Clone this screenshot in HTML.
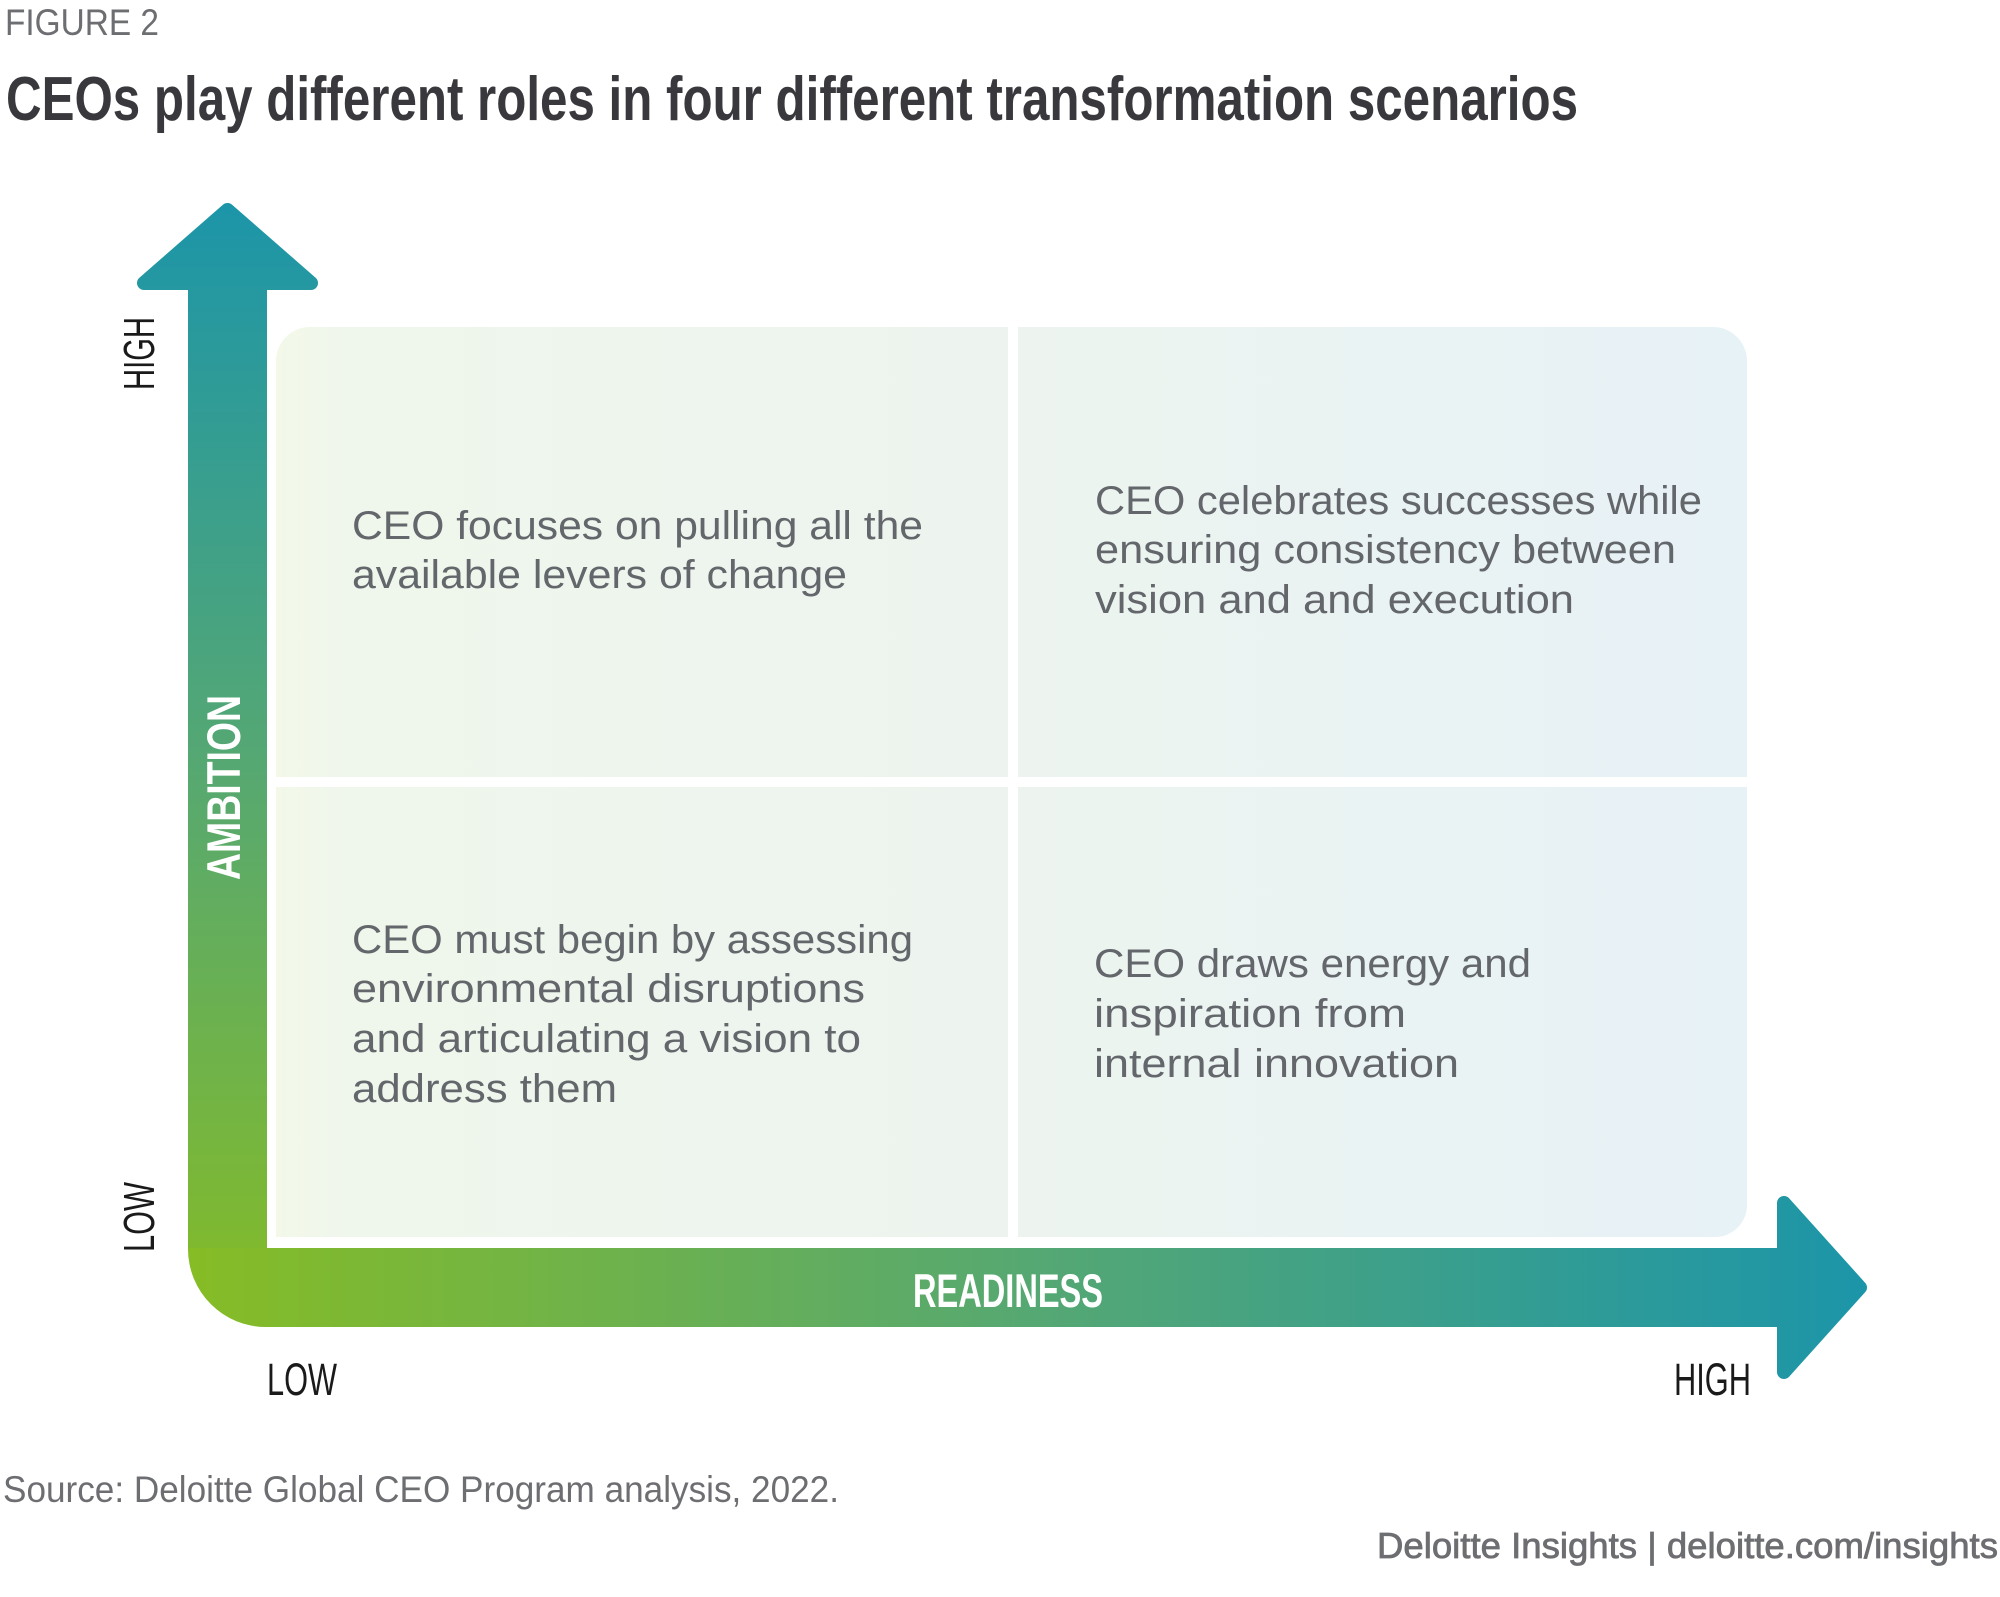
<!DOCTYPE html>
<html>
<head>
<meta charset="utf-8">
<style>
  html,body{margin:0;padding:0;background:#ffffff;}
  body{width:2000px;height:1597px;overflow:hidden;}
  svg{display:block;}
  .reg{font-family:"Liberation Sans",sans-serif;}
  .nar{font-family:"Liberation Sans Narrow","Liberation Sans",sans-serif;}
</style>
</head>
<body>
<svg width="2000" height="1597" viewBox="0 0 2000 1597" xmlns="http://www.w3.org/2000/svg">
  <defs>
    <linearGradient id="gv" gradientUnits="userSpaceOnUse" x1="0" y1="1327" x2="0" y2="203">
      <stop offset="0" stop-color="#86bc25"/>
      <stop offset="0.5" stop-color="#56a872"/>
      <stop offset="1" stop-color="#1c95a9"/>
    </linearGradient>
    <linearGradient id="gh" gradientUnits="userSpaceOnUse" x1="188" y1="0" x2="1866" y2="0">
      <stop offset="0" stop-color="#86bc25"/>
      <stop offset="0.5" stop-color="#56a872"/>
      <stop offset="1" stop-color="#1c95a9"/>
    </linearGradient>
    <linearGradient id="gbox" gradientUnits="userSpaceOnUse" x1="276" y1="0" x2="1747" y2="0">
      <stop offset="0" stop-color="#f3f8e9"/>
      <stop offset="0.05" stop-color="#eff6ec"/>
      <stop offset="0.5" stop-color="#edf4ef"/>
      <stop offset="1" stop-color="#e7f2f7"/>
    </linearGradient>
  </defs>

  <!-- Header -->
  <text class="nar" x="5" y="35" font-size="37" fill="#6d6e71" textLength="154" lengthAdjust="spacingAndGlyphs">FIGURE 2</text>
  <text class="nar" x="6" y="120" font-size="62" font-weight="bold" fill="#38383d" textLength="1572" lengthAdjust="spacingAndGlyphs">CEOs play different roles in four different transformation scenarios</text>

  <!-- Quadrant box -->
  <path d="M276,361 A34,34 0 0 1 310,327 L1713,327 A34,34 0 0 1 1747,361 L1747,1205 A32,32 0 0 1 1715,1237 L276,1237 Z" fill="url(#gbox)"/>
  <rect x="1008" y="327" width="10" height="910" fill="#ffffff"/>
  <rect x="268" y="777" width="1479" height="10" fill="#ffffff"/>

  <!-- Vertical arrow -->
  <rect x="188" y="285" width="79" height="965" fill="url(#gv)"/>
  <polygon points="227.5,210 144,283 311,283" fill="url(#gv)" stroke="url(#gv)" stroke-width="14" stroke-linejoin="round"/>

  <!-- Horizontal arrow with rounded corner -->
  <path d="M188,1248 L1782,1248 L1782,1327 L266,1327 A78,78 0 0 1 188,1249 Z" fill="url(#gh)"/>
  <polygon points="1784,1203 1860,1287.5 1784,1372" fill="url(#gh)" stroke="url(#gh)" stroke-width="14" stroke-linejoin="round"/>

  <!-- Axis titles -->
  <text class="nar" transform="translate(240,880) rotate(-90)" x="0" y="0" font-size="47" font-weight="bold" fill="#ffffff" textLength="185" lengthAdjust="spacingAndGlyphs">AMBITION</text>
  <text class="nar" x="913" y="1307" font-size="47" font-weight="bold" fill="#ffffff" textLength="190" lengthAdjust="spacingAndGlyphs">READINESS</text>

  <!-- Axis end labels -->
  <text class="nar" transform="translate(154,390) rotate(-90)" x="0" y="0" font-size="44" fill="#1a1a1a" textLength="73" lengthAdjust="spacingAndGlyphs">HIGH</text>
  <text class="nar" transform="translate(154,1252) rotate(-90)" x="0" y="0" font-size="44" fill="#1a1a1a" textLength="70" lengthAdjust="spacingAndGlyphs">LOW</text>
  <text class="nar" x="267" y="1395" font-size="45" fill="#1a1a1a" textLength="70" lengthAdjust="spacingAndGlyphs">LOW</text>
  <text class="nar" x="1674" y="1395" font-size="45" fill="#1a1a1a" textLength="77" lengthAdjust="spacingAndGlyphs">HIGH</text>

  <!-- Quadrant texts -->
  <g class="reg" font-size="40" fill="#63666a">
    <text x="352" y="539" textLength="571" lengthAdjust="spacingAndGlyphs">CEO focuses on pulling all the</text>
    <text x="352" y="588" textLength="495" lengthAdjust="spacingAndGlyphs">available levers of change</text>

    <text x="1095" y="514" textLength="607" lengthAdjust="spacingAndGlyphs">CEO celebrates successes while</text>
    <text x="1095" y="563" textLength="581" lengthAdjust="spacingAndGlyphs">ensuring consistency between</text>
    <text x="1095" y="613" textLength="479" lengthAdjust="spacingAndGlyphs">vision and and execution</text>

    <text x="352" y="953" textLength="561" lengthAdjust="spacingAndGlyphs">CEO must begin by assessing</text>
    <text x="352" y="1002" textLength="513" lengthAdjust="spacingAndGlyphs">environmental disruptions</text>
    <text x="352" y="1052" textLength="509" lengthAdjust="spacingAndGlyphs">and articulating a vision to</text>
    <text x="352" y="1102" textLength="265" lengthAdjust="spacingAndGlyphs">address them</text>

    <text x="1094" y="977" textLength="437" lengthAdjust="spacingAndGlyphs">CEO draws energy and</text>
    <text x="1094" y="1027" textLength="312" lengthAdjust="spacingAndGlyphs">inspiration from</text>
    <text x="1094" y="1077" textLength="365" lengthAdjust="spacingAndGlyphs">internal innovation</text>
  </g>

  <!-- Footer -->
  <text class="reg" x="3" y="1502" font-size="37" fill="#6d6e71" textLength="836" lengthAdjust="spacingAndGlyphs">Source: Deloitte Global CEO Program analysis, 2022.</text>
  <text class="reg" x="1377" y="1558" font-size="36" fill="#6d6e71" stroke="#6d6e71" stroke-width="0.8" textLength="621" lengthAdjust="spacingAndGlyphs">Deloitte Insights | deloitte.com/insights</text>
</svg>
</body>
</html>
